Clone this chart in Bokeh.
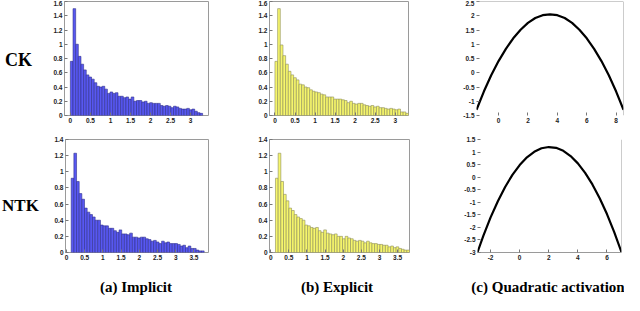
import numpy as np
from bokeh.plotting import figure
from bokeh.layouts import column, row
from bokeh.models import Range1d, FixedTicker, CustomJSTickFormatter, Span
from bokeh.embed import file_html
from bokeh.resources import INLINE
from bokeh.core.properties import value

# ---------------- data ----------------
row_labels = ["CK", "NTK"]
captions = ["(a) Implicit", "(b) Explicit", "(c) Quadratic activation"]

ck_implicit_start, ck_implicit_width = 0.0, 0.066
ck_implicit = [0.76, 1.50, 1.00, 0.83, 0.72, 0.64, 0.57, 0.54, 0.51, 0.46,
               0.41, 0.40, 0.41, 0.37, 0.31, 0.33, 0.31, 0.32, 0.27, 0.27,
               0.25, 0.26, 0.23, 0.26, 0.20, 0.21, 0.21, 0.19, 0.20, 0.17,
               0.18, 0.17, 0.17, 0.17, 0.14, 0.13, 0.14, 0.13, 0.11, 0.13,
               0.12, 0.10, 0.09, 0.09, 0.10, 0.08, 0.09, 0.06, 0.04, 0.03]

ck_explicit_start, ck_explicit_width = 0.0, 0.0666
ck_explicit = [0.76, 1.50, 0.99, 0.84, 0.72, 0.62, 0.57, 0.53, 0.50, 0.44,
               0.43, 0.40, 0.39, 0.36, 0.34, 0.33, 0.32, 0.30, 0.29, 0.26,
               0.26, 0.26, 0.23, 0.23, 0.23, 0.22, 0.21, 0.18, 0.20, 0.17,
               0.16, 0.17, 0.17, 0.15, 0.14, 0.13, 0.14, 0.12, 0.13, 0.11,
               0.11, 0.10, 0.09, 0.10, 0.09, 0.08, 0.09, 0.05, 0.05, 0.03]

ntk_implicit_start, ntk_implicit_width = 0.13, 0.073
ntk_implicit = [0.92, 1.23, 0.88, 0.73, 0.66, 0.55, 0.50, 0.47, 0.44, 0.40,
                0.40, 0.34, 0.33, 0.33, 0.30, 0.30, 0.27, 0.25, 0.28, 0.23,
                0.23, 0.22, 0.24, 0.19, 0.19, 0.18, 0.19, 0.19, 0.17, 0.16,
                0.14, 0.15, 0.13, 0.11, 0.14, 0.12, 0.13, 0.11, 0.11, 0.11,
                0.10, 0.08, 0.09, 0.06, 0.08, 0.05, 0.05, 0.03, 0.02, 0.02]

ntk_explicit_start, ntk_explicit_width = 0.13, 0.074
ntk_explicit = [0.92, 1.23, 0.88, 0.72, 0.64, 0.55, 0.52, 0.47, 0.44, 0.42,
                0.40, 0.34, 0.33, 0.31, 0.30, 0.31, 0.27, 0.25, 0.28, 0.24,
                0.23, 0.22, 0.23, 0.20, 0.20, 0.17, 0.20, 0.18, 0.17, 0.15,
                0.14, 0.15, 0.14, 0.12, 0.14, 0.12, 0.11, 0.11, 0.10, 0.10,
                0.09, 0.09, 0.07, 0.08, 0.06, 0.07, 0.05, 0.04, 0.03, 0.03]

quad_ck_x = [-1.5, -1.0, -0.5, 0.0, 0.5, 1.0, 1.5, 2.0, 2.5, 3.0, 3.5,
             4.0, 4.5, 5.0, 5.5, 6.0, 6.5, 7.0, 7.5, 8.0, 8.5]
quad_ck_y = [-1.30, -0.66, -0.09, 0.41, 0.84, 1.21, 1.51, 1.75, 1.92, 2.02, 2.05,
             2.02, 1.92, 1.75, 1.51, 1.21, 0.84, 0.41, -0.09, -0.66, -1.30]

quad_ntk_x = [-2.9, -2.5, -2.0, -1.5, -1.0, -0.5, 0.0, 0.5, 1.0, 1.5, 2.0,
              2.5, 3.0, 3.5, 4.0, 4.5, 5.0, 5.5, 6.0, 6.5, 7.0]
quad_ntk_y = [-2.99, -2.34, -1.60, -0.96, -0.39, 0.09, 0.48, 0.79, 1.01, 1.15, 1.20,
              1.17, 1.05, 0.84, 0.55, 0.17, -0.29, -0.84, -1.47, -2.19, -2.99]

hist_ck_xticks = [0, 0.5, 1, 1.5, 2, 2.5, 3]
hist_ck_yticks = [0, 0.2, 0.4, 0.6, 0.8, 1, 1.2, 1.4, 1.6]
hist_ntk_xticks = [0, 0.5, 1, 1.5, 2, 2.5, 3, 3.5]
hist_ntk_yticks = [0, 0.2, 0.4, 0.6, 0.8, 1, 1.2, 1.4]
quad_ck_xticks = [0, 2, 4, 6, 8]
quad_ck_yticks = [-1.5, -1, -0.5, 0, 0.5, 1, 1.5, 2, 2.5]
quad_ntk_xticks = [-2, 0, 2, 4, 6]
quad_ntk_yticks = [-3, -2.5, -2, -1.5, -1, -0.5, 0, 0.5, 1, 1.5]

# ---------------- styling ----------------
BLUE_FILL, BLUE_LINE = "#5858f2", "#30308c"
YEL_FILL, YEL_LINE = "#f6f66c", "#8d8d5a"
FRAME = "#9a9a9a"
TICK_FONT = "Liberation Sans"
fmt = CustomJSTickFormatter(code="return String(Number(tick.toFixed(2)));")


def panel(w, h, bl, br, bt, bb, xr, yr, xt, yt):
    p = figure(width=w, height=h, x_range=Range1d(*xr), y_range=Range1d(*yr),
               toolbar_location=None, output_backend="svg",
               min_border_left=bl, min_border_right=br,
               min_border_top=bt, min_border_bottom=bb)
    p.grid.visible = False
    p.background_fill_color = "white"
    p.border_fill_color = "white"
    p.outline_line_color = FRAME
    p.outline_line_width = 1
    p.xaxis.ticker = FixedTicker(ticks=xt)
    p.yaxis.ticker = FixedTicker(ticks=yt)
    for ax in (p.xaxis[0], p.yaxis[0]):
        ax.formatter = fmt
        ax.axis_line_color = None
        ax.major_tick_in = 3
        ax.major_tick_out = 0
        ax.major_tick_line_color = "#777777"
        ax.minor_tick_line_color = None
        ax.major_label_text_font = TICK_FONT
        ax.major_label_text_font_style = "bold"
        ax.major_label_text_font_size = "6.5px"
        ax.major_label_text_color = "#222222"
        ax.major_label_standoff = 2
    return p


def hist(p, vals, start, width, fill, line):
    left = start + width * np.arange(len(vals))
    p.quad(left=left, right=left + width, bottom=0, top=vals,
           fill_color=fill, line_color=line, line_width=0.6)


def quad_panel(p, xs, ys, xr, yr, top_line, bottom_line):
    p.outline_line_color = None
    p.line(xs, ys, line_color="black", line_width=2.2)
    p.add_layout(Span(location=xr[1], dimension="height", line_color=FRAME, line_width=1))
    if top_line:
        p.add_layout(Span(location=yr[1], dimension="width", line_color=FRAME, line_width=1))
    if bottom_line:
        p.xaxis.axis_line_color = FRAME


def label_fig(w, h, xs, ys, texts, size):
    p = figure(width=w, height=h, x_range=Range1d(0, w), y_range=Range1d(0, h),
               toolbar_location=None, output_backend="svg",
               min_border_left=0, min_border_right=0, min_border_top=0, min_border_bottom=0)
    p.axis.visible = False
    p.grid.visible = False
    p.outline_line_color = None
    p.text(x=xs, y=ys, text=texts, text_font=value("Liberation Serif"),
           text_font_style="bold", text_font_size=size, text_align="center",
           text_baseline="middle", text_color="black")
    return p


H1, H2, HC = 128, 136, 31

# row 1
lab1 = label_fig(40, H1, [18], [62], [row_labels[0]], "18px")
a1 = panel(195, H1, 24, 27, 1, 13, (-0.147, 3.447), (0, 1.6), hist_ck_xticks, hist_ck_yticks)
hist(a1, ck_implicit, ck_implicit_start, ck_implicit_width, BLUE_FILL, BLUE_LINE)
b1 = panel(210, H1, 34, 37, 1, 13, (-0.136, 3.33), (0, 1.6), hist_ck_xticks, hist_ck_yticks)
hist(b1, ck_explicit, ck_explicit_start, ck_explicit_width, YEL_FILL, YEL_LINE)
c1 = panel(179, H1, 31, 1, 1, 11, (-1.5, 8.5), (-1.5, 2.5), quad_ck_xticks, quad_ck_yticks)
quad_panel(c1, quad_ck_x, quad_ck_y, (-1.5, 8.5), (-1.5, 2.5), True, False)

# row 2
lab2 = label_fig(40, H2, [20], [56], [row_labels[1]], "17px")
a2 = panel(195, H2, 25, 27, 11, 11, (-0.027, 3.90), (0, 1.4), hist_ntk_xticks, hist_ntk_yticks)
hist(a2, ntk_implicit, ntk_implicit_start, ntk_implicit_width, BLUE_FILL, BLUE_LINE)
b2 = panel(210, H2, 34, 36, 11, 11, (-0.035, 3.83), (0, 1.4), hist_ntk_xticks, hist_ntk_yticks)
hist(b2, ntk_explicit, ntk_explicit_start, ntk_explicit_width, YEL_FILL, YEL_LINE)
c2 = panel(179, H2, 32, 3, 11, 12, (-2.9, 7.0), (-3, 1.5), quad_ntk_xticks, quad_ntk_yticks)
quad_panel(c2, quad_ntk_x, quad_ntk_y, (-2.9, 7.0), (-3, 1.5), False, True)

cap = label_fig(624, HC, [135.5, 336.5, 547.5], [9, 9, 9], captions, "15px")

layout = column(row(lab1, a1, b1, c1, spacing=0),
                row(lab2, a2, b2, c2, spacing=0),
                cap, spacing=0)

open("out.html", "w").write(file_html(layout, INLINE))
